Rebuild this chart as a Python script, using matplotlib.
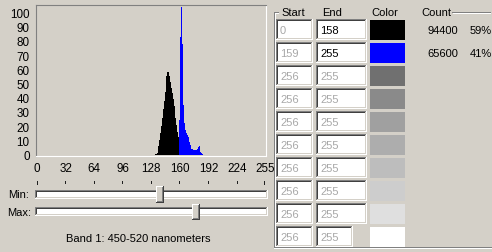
import matplotlib
matplotlib.use("Agg")
import matplotlib.pyplot as plt
from matplotlib.patches import Rectangle

# ---------------- data ----------------
bins_black = list(range(132, 159))
counts_black = [0.3, 0.5, 1, 3, 6, 10, 15, 20, 26, 32, 38, 44, 50, 55, 58,
                58, 55, 51, 47, 43, 39, 34, 30, 26, 21, 16, 12]
bins_blue = list(range(159, 186))
counts_blue = [24, 83, 104, 78, 55, 35, 22, 17, 15, 14, 12, 9, 7, 5, 4, 4,
               3, 3, 3.5, 3, 4, 5, 6, 4.5, 2, 1, 0.5]
x_ticks = [0, 32, 64, 96, 128, 160, 192, 224, 255]
y_ticks = [0, 10, 20, 30, 40, 50, 60, 70, 80, 90, 100]
slider_min = 138
slider_max = 178
band_label = "Band 1: 450-520 nanometers"

starts = ["0", "159", "256", "256", "256", "256", "256", "256", "256", "256"]
ends = ["158", "255", "255", "255", "255", "255", "255", "255", "255", "255"]
active = [True, True, False, False, False, False, False, False, False, False]
swatches = ["#000000", "#0000FF", "#707070", "#8A8A8A", "#A0A0A0",
            "#ADADAD", "#BDBDBD", "#CDCDCD", "#DFDFDF", "#FFFFFF"]
counts = ["94400", "65600"]
percents = ["59%", "41%"]

# ---------------- layout ----------------
W, H = 492, 253
BG = "#D4D0C8"
FONT = "Liberation Sans"
plt.rcParams["font.family"] = [FONT, "DejaVu Sans"]

fig = plt.figure(figsize=(W / 100, H / 100), dpi=100, facecolor=BG)


def fx(x):
    return x / W


def fy(y):
    return 1 - y / H


def rect(x0, y0, x1, y1, color):
    fig.add_artist(Rectangle((fx(x0), fy(y1)), (x1 - x0) / W, (y1 - y0) / H,
                             transform=fig.transFigure, facecolor=color,
                             edgecolor="none", lw=0))


def sunken(x0, y0, x1, y1, fill="white"):
    rect(x0, y0, x1, y1, "#FFFFFF")          # outer bottom/right
    rect(x0, y0, x1 - 1, y1 - 1, "#808080")  # outer top/left
    rect(x0 + 1, y0 + 1, x1 - 1, y1 - 1, BG)  # inner bottom/right
    rect(x0 + 1, y0 + 1, x1 - 2, y1 - 2, "#404040")  # inner top/left
    rect(x0 + 2, y0 + 2, x1 - 2, y1 - 2, fill)


def raised(x0, y0, x1, y1):
    rect(x0, y0, x1, y1, "#404040")
    rect(x0, y0, x1 - 1, y1 - 1, "#FFFFFF")
    rect(x0 + 1, y0 + 1, x1 - 1, y1 - 1, "#808080")
    rect(x0 + 1, y0 + 1, x1 - 2, y1 - 2, BG)


def text(x, y, s, ha="left", color="black", size=8):
    fig.text(fx(x), fy(y), s, ha=ha, va="center", color=color,
             fontsize=size, family=[FONT, "DejaVu Sans"])


# histogram axes (pixel box 36..266 x 6..157)
X0, XS = 37.0, 0.893
Y0, YS = 155.5, 1.42
ax = fig.add_axes([fx(36), fy(157), 230 / W, 151 / H])
ax.set_facecolor(BG)
ax.bar(bins_black, counts_black, width=1, align="edge", color="black", lw=0,
       antialiased=False)
ax.bar(bins_blue, counts_blue, width=1, align="edge", color="#0000FF", lw=0,
       antialiased=False)
ax.set_xlim((36 - X0) / XS, (266 - X0) / XS)
ax.set_ylim((Y0 - 157) / YS, (Y0 - 6) / YS)
ax.set_xticks(x_ticks)
ax.set_xticklabels([str(t) for t in x_ticks])
ax.set_yticks(y_ticks)
ax.set_yticklabels([str(t) for t in y_ticks])
ax.tick_params(length=0, labelsize=8.4, pad=4.6)
for side, col in [("left", "#808080"), ("top", "#808080"),
                  ("right", "#FFFFFF"), ("bottom", "#FFFFFF")]:
    ax.spines[side].set_color(col)
    ax.spines[side].set_linewidth(0.8)


def xpx(v):
    return X0 + XS * v


# slider tick marks
for t in x_ticks:
    rect(xpx(t) - 0.5, 182, xpx(t) + 0.5, 185 if t not in (0, 255) else 186,
         "#202020")

# slider tracks
text(8, 195, "Min:")
text(7, 212.5, "Max:")
sunken(35, 190.5, 268, 199.5)
sunken(35, 208, 268, 217)
raised(xpx(slider_min) - 4, 186.5, xpx(slider_min) + 4, 203.5)
raised(xpx(slider_max) - 4, 204.5, xpx(slider_max) + 4, 220.5)
text(138, 239.5, band_label, ha="center")

# group box (etched)
rect(274, 13, 275, 249, "#808080")
rect(275, 14, 276, 248, "#FFFFFF")
rect(274, 248, 492, 249, "#808080")
rect(274, 249, 492, 250, "#FFFFFF")
for a, b in [(274, 279), (452, 491)]:
    rect(a, 13, b, 14, "#808080")
    rect(a + 1, 14, b, 15, "#FFFFFF")

text(293.5, 13.3, "Start", ha="center")
text(332.5, 13.3, "End", ha="center")
text(385, 13.3, "Color", ha="center")
text(436, 13.3, "Count", ha="center")

for i in range(len(starts)):
    top = 20 + 23 * i
    sunken(276, top, 313, top + 21)
    end_right = 367 if i < len(starts) - 1 else 352.5
    sunken(316, top, end_right, top + 21)
    text(280, top + 10.8, starts[i], color="#A8A8A8")
    text(320, top + 10.8, ends[i], color="black" if active[i] else "#A8A8A8")
    rect(369.5, top + 0.5, 405, top + 20.5, swatches[i])

for i in range(len(counts)):
    y = 30.7 + 23 * i
    text(458.5, y, counts[i], ha="right")
    text(491.5, y, percents[i], ha="right")

fig.savefig("out.png", dpi=100, facecolor=BG)
